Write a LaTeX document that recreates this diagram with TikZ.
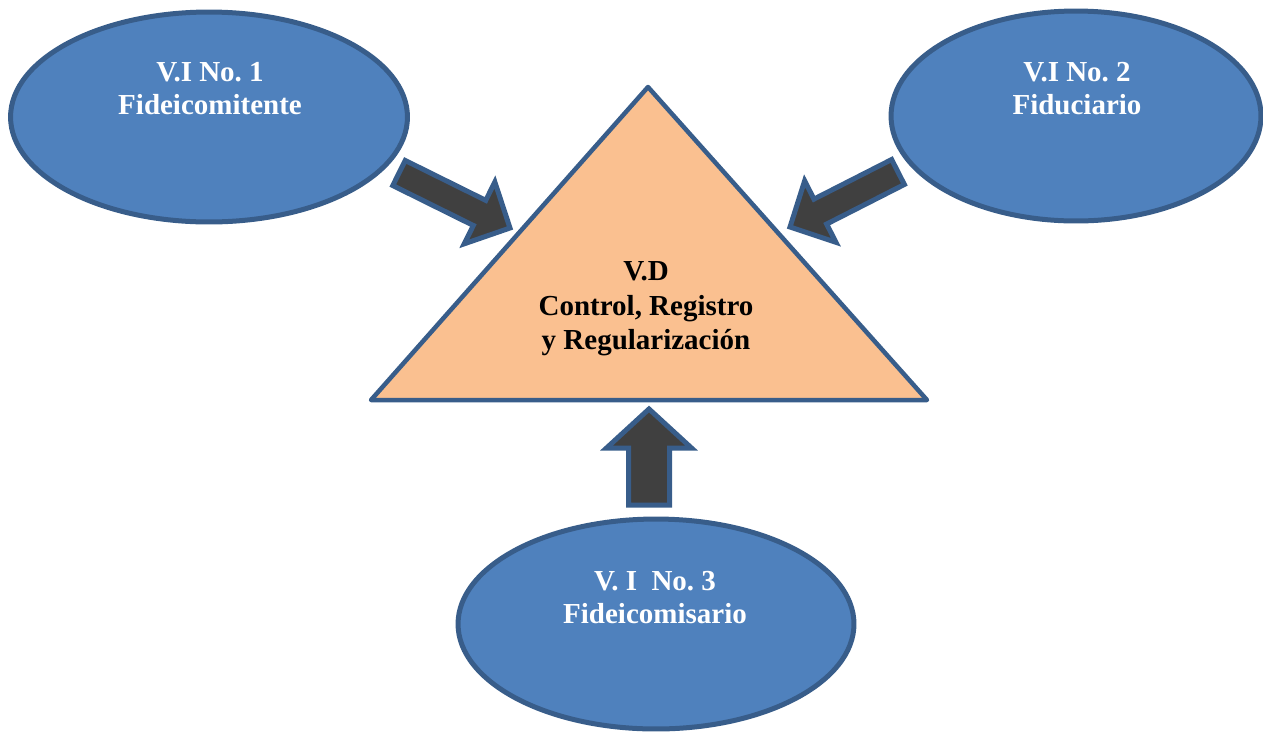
\documentclass[tikz,border=0pt]{standalone}
\usepackage{fontspec}
\setmainfont{Liberation Serif}
\usetikzlibrary{calc,shapes.geometric}

\definecolor{viblue}{RGB}{79,129,189}
\definecolor{viedge}{RGB}{56,93,138}
\definecolor{vdpeach}{RGB}{250,192,144}
\definecolor{arrdark}{RGB}{64,64,64}

\tikzset{
  vi/.style={ellipse,draw=viedge,fill=viblue,line width=0.1cm,inner sep=0pt},
  vitext/.style={text=white,font=\bfseries\fontsize{16.5pt}{18.8pt}\selectfont,align=center,inner sep=0pt},
  vdtext/.style={text=black,font=\bfseries\fontsize{16.5pt}{19.6pt}\selectfont,align=center,inner sep=0pt},
  blockarr/.style={draw=viedge,fill=arrdark,line width=0.1cm,line join=miter}
}

% block arrow: tail, tip, shaft half width, head half width, head length
\newcommand{\blockarrow}[5]{%
  \coordinate (#1-neck) at ($(#2)!#5!(#1)$);
  \draw[blockarr] ($(#1)!#3!90:(#2)$) -- ($(#1-neck)!#3!90:(#2)$)
    -- ($(#1-neck)!#4!90:(#2)$) -- (#2) -- ($(#1-neck)!#4!-90:(#2)$)
    -- ($(#1-neck)!#3!-90:(#2)$) -- ($(#1)!#3!-90:(#2)$) -- cycle;
}

\begin{document}
\begin{tikzpicture}[x=0.02cm,y=-0.02cm]
\useasboundingbox (0,0) rectangle (1263,731);

% Independent variables
\node[vi,minimum width=7.94cm,minimum height=4.2cm] (e1) at (209,117) {};
\node[vi,minimum width=7.4cm,minimum height=4.2cm] (e2) at (1076,116) {};
\node[vi,minimum width=7.92cm,minimum height=4.2cm] (e3) at (656,624) {};

\node[vitext] (t1) at (210,89) {V.I No.\ 1\\Fideicomitente};
\node[vitext] (t2) at (1077,89) {V.I No.\ 2\\Fiduciario};
\node[vitext] (t3) at (655,598) {V.\ I\ \ No.\ 3\\Fideicomisario};

% Dependent variable
\coordinate (top) at (648,87);
\coordinate (bl) at (371,400);
\coordinate (br) at (927,400);
\draw[draw=viedge,fill=vdpeach,line width=0.09cm,line join=round] (top) -- (br) -- (bl) -- cycle;
\node[vdtext] (vd) at (646,309) {V.D\\Control, Registro\\y Regularizaci\'on};

% Arrows
\coordinate (a1) at (399,173);
\coordinate (a1e) at (510,228);
\coordinate (a2) at (898,172);
\coordinate (a2e) at (790,227);
\coordinate (a3) at (649,505);
\coordinate (a3e) at (649,409);
\blockarrow{a1}{a1e}{0.28cm}{0.69cm}{0.68cm}
\blockarrow{a2}{a2e}{0.28cm}{0.69cm}{0.68cm}
\blockarrow{a3}{a3e}{0.41cm}{0.85cm}{0.78cm}
\end{tikzpicture}
\end{document}
